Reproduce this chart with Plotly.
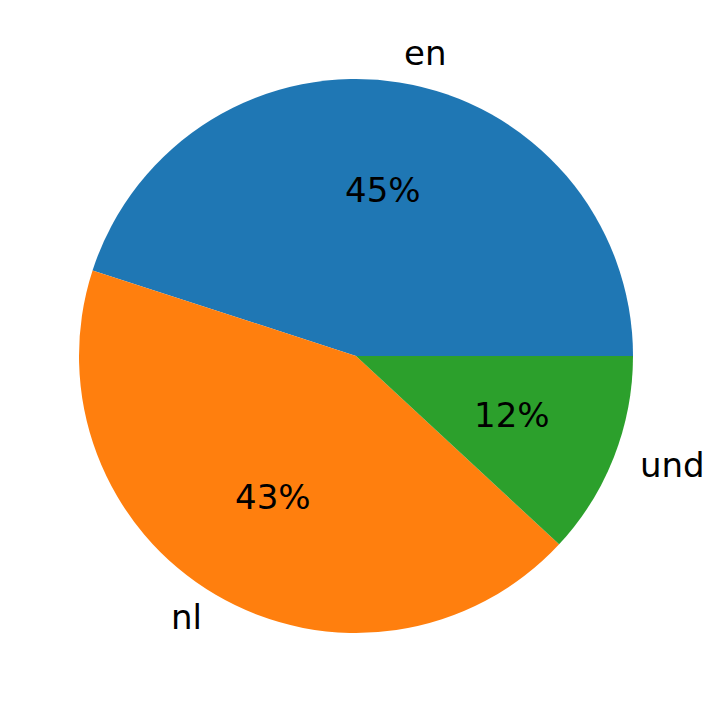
import math
import plotly.graph_objects as go

labels = ["en", "nl", "und"]
values = [45.0, 43.1, 11.9]
colors = ["#1f77b4", "#ff7f0e", "#2ca02c"]

# The page body has an 8px margin, so the figure is sized/positioned to compensate
OFF = 8
W, H = 700, 697
cx_px, cy_px, R_px = 356 - OFF, 356 - OFF, 277

total = sum(values)
# Plotly (counterclockwise) places the first slice clockwise from `rotation`;
# choose rotation so the first slice starts at 3 o'clock going counterclockwise.
rotation = 90 - 360 * values[0] / total

fig = go.Figure(go.Pie(
    labels=labels, values=values, sort=False, direction="counterclockwise",
    rotation=rotation, marker=dict(colors=colors, line=dict(width=0)),
    textinfo="none", hoverinfo="label+percent",
    domain=dict(x=[(cx_px - R_px) / W, (cx_px + R_px) / W],
                y=[1 - (cy_px + R_px) / H, 1 - (cy_px - R_px) / H]),
    showlegend=False,
))

start = 0.0
font = dict(family="DejaVu Sans", size=34, color="black")
for lab, v in zip(labels, values):
    frac = v / total
    mid = math.radians((start + frac / 2) * 360)
    start += frac
    c, s = math.cos(mid), math.sin(mid)
    fig.add_annotation(x=(cx_px + 0.6 * R_px * c) / W, y=1 - (cy_px - 0.6 * R_px * s) / H,
                       xref="paper", yref="paper", text=f"{round(frac*100)}%",
                       showarrow=False, font=font, xanchor="center", yanchor="middle",
                       xshift=1, yshift=2)
    fig.add_annotation(x=(cx_px + 1.1 * R_px * c) / W, y=1 - (cy_px - 1.1 * R_px * s) / H,
                       xref="paper", yref="paper", text=lab,
                       showarrow=False, font=font,
                       xanchor="left" if c > 0 else "right", yanchor="middle",
                       xshift=-2 if c > 0 else 2, yshift=2)

fig.update_layout(width=W, height=H, margin=dict(l=0, r=0, t=0, b=0),
                  paper_bgcolor="white", plot_bgcolor="white")
fig.write_html("out.html")
